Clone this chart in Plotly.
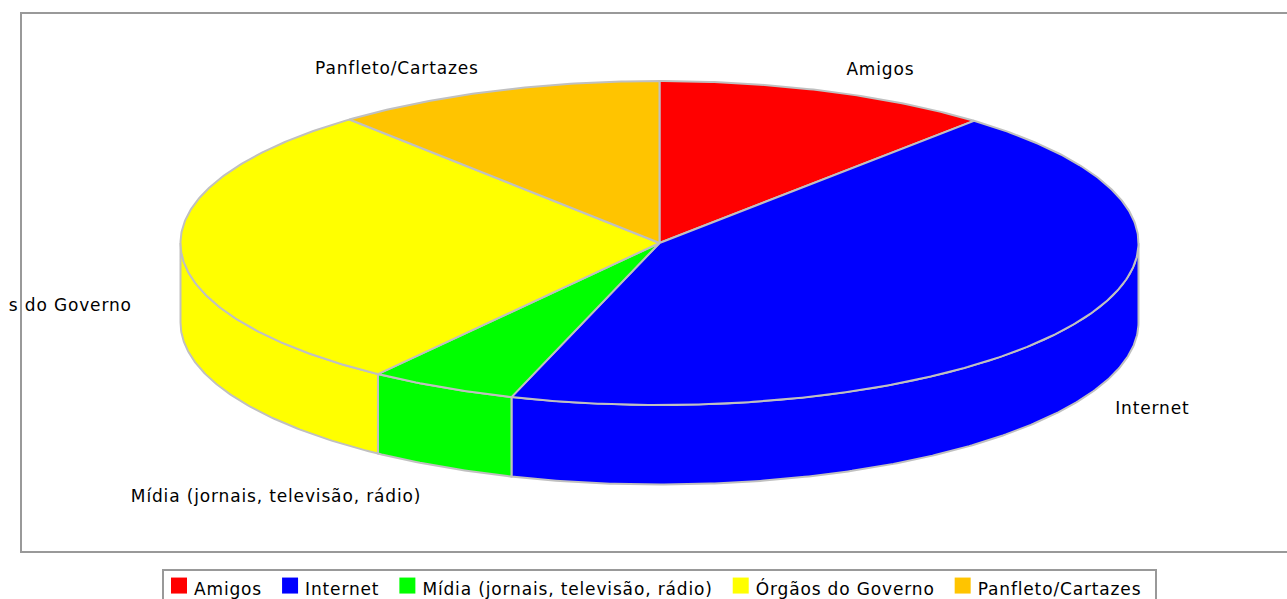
import numpy as np
import plotly.graph_objects as go

categories = ["Amigos", "Internet", "Mídia (jornais, televisão, rádio)", "Órgãos do Governo", "Panfleto/Cartazes"]
values = [11.4, 43.6, 5.0, 28.8, 11.2]
colors = ["#ff0000", "#0000ff", "#00ff00", "#ffff00", "#ffc400"]
# label offset from the slice's rim midpoint, in pixels
label_dx = [53, 76, -166, -49, -97.5]
label_dy = [-21, 87, 110.5, 58, -21.5]
label_pos = ["middle center", "middle center", "middle center", "middle left", "middle center"]

W, H = 1287, 599
CX, CY, RX, RY, DEPTH = 659.5, 243, 479, 162, 79.5
EDGE = "#c0c0c0"
FONT = "DejaVu Sans"
FONT_SIZE = 17
CLIP_L = 9


def pt(theta):
    t = np.radians(theta)
    return CX + RX * np.sin(t), CY - RY * np.cos(t)


def arc(a, b):
    n = max(int(abs(b - a)) * 2, 2)
    return pt(np.linspace(a, b, n))


cum = np.concatenate([[0], np.cumsum(values)]) / sum(values) * 360
fig = go.Figure()


def poly(xs, ys, color):
    fig.add_trace(go.Scatter(x=xs, y=ys, mode="lines", fill="toself", fillcolor=color,
                             line=dict(color=EDGE, width=2), showlegend=False, hoverinfo="skip"))


# front wall
for i in range(len(values)):
    a, b = max(cum[i], 90), min(cum[i + 1], 270)
    if b > a:
        x, y = arc(a, b)
        poly(np.r_[x, x[::-1], x[0]], np.r_[y, y[::-1] + DEPTH, y[0]], colors[i])

# top face
for i in range(len(values)):
    x, y = arc(cum[i], cum[i + 1])
    poly(np.r_[CX, x, CX], np.r_[CY, y, CY], colors[i])

# labels
mid = (cum[:-1] + cum[1:]) / 2
mx, my = pt(mid)
fig.add_trace(go.Scatter(x=mx + np.array(label_dx), y=my + np.array(label_dy), mode="text",
                         text=categories, textposition=label_pos,
                         textfont=dict(family=FONT, size=FONT_SIZE, color="#000000"),
                         cliponaxis=True, showlegend=False, hoverinfo="skip"))

# legend entries
for c, col in zip(categories, colors):
    fig.add_trace(go.Scatter(x=[None], y=[None], mode="markers", name=c,
                             marker=dict(symbol="square", size=16, color=col)))

fig.update_layout(
    width=W, height=H, autosize=False,
    margin=dict(l=CLIP_L, r=0, t=0, b=0, autoexpand=False),
    paper_bgcolor="white", plot_bgcolor="white",
    xaxis=dict(range=[CLIP_L, W], visible=False, fixedrange=True),
    yaxis=dict(range=[H, 0], visible=False, fixedrange=True),
    shapes=[dict(type="rect", xref="x", yref="y", x0=21, y0=13, x1=W + 20, y1=552,
                 line=dict(color="#999999", width=2), layer="below")],
    legend=dict(orientation="h", x=(162 - CLIP_L) / (W - CLIP_L), y=1 - 569 / H, xanchor="left", yanchor="top",
                indentation=-2, bgcolor="white", bordercolor="#999999", borderwidth=2,
                font=dict(family=FONT, size=FONT_SIZE, color="#000000"), itemclick=False, itemdoubleclick=False),
)
post = """
document.body.style.margin = '0';
var st = document.createElement('style');
st.textContent = 'svg text { letter-spacing: 0.85px; } .legendsymbols { transform: translate(-3px, -3px); } .legendtext { transform: translateX(-8px); }';
document.head.appendChild(st);
Plotly.relayout(document.getElementById('{plot_id}'), {'legend.font.size': 17.01});
"""
fig.write_html("out.html", config={"displayModeBar": False}, post_script=post)
